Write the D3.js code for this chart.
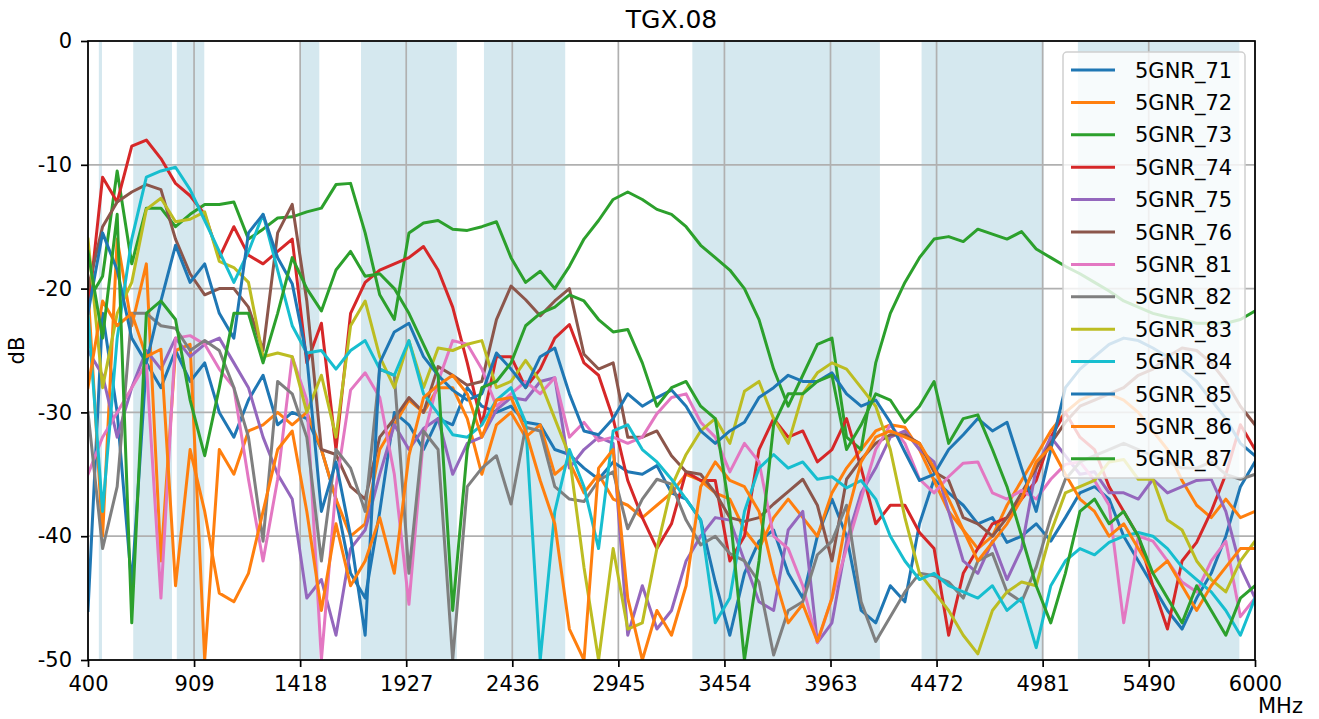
<!DOCTYPE html>
<html>
<head>
<meta charset="utf-8">
<script src="https://cdn.jsdelivr.net/npm/d3@7"></script>
<style>
  body { margin: 0; background: #fff; }
  text { font-family: "DejaVu Sans", sans-serif; fill: #000; }
</style>
</head>
<body>
<div id="chart"></div>
<script>
// frequency grid (MHz) shared by all series
const freqs = [400,470,540,610,680,750,820,890,960,1030,1100,1170,1240,1310,1380,1450,1520,1590,1660,1730,
  1800,1870,1940,2010,2080,2150,2220,2290,2360,2430,2500,2570,2640,2710,2780,2850,2920,2990,3060,3130,
  3200,3270,3340,3410,3480,3550,3620,3690,3760,3830,3900,3970,4040,4110,4180,4250,4320,4390,4460,4530,
  4600,4670,4740,4810,4880,4950,5020,5090,5160,5230,5300,5370,5440,5510,5580,5650,5720,5790,5860,5930,6000];

const s71 = [-46,-22,-30,-44,-26,-28,-25,-27.5,-26,-30,
  -32,-29,-27,-31,-30,-30.5,-33,-37,-43,-45,
  -38,-30,-31,-33,-30.5,-31,-28,-29.5,-30,-29.5,
  -30.8,-31,-33,-33.4,-34.5,-35.4,-34,-34.8,-35,-34.3,
  -36.5,-37,-38.7,-43.7,-48,-43,-40.4,-39.5,-43,-45,
  -40,-37,-40,-46,-47,-44,-45.3,-39,-35.4,-36.5,
  -37.5,-39,-38.5,-40.5,-40,-39,-40.4,-38.5,-36.5,-36,
  -37,-40,-42,-44,-46,-47.5,-45,-43,-40,-36,
  -34];
const s72 = [-20,-40,-16,-23,-18,-42,-25,-24.5,-50,-33,
  -35,-31.5,-31,-30,-31,-30,-33,-37,-40,-39,
  -33,-31,-29,-30,-28,-28,-30.5,-35,-31,-30,
  -32,-31,-35,-34,-36.5,-35,-37,-37.5,-38.5,-37.5,
  -36.5,-35,-35.5,-36.5,-37,-39.5,-41,-38.5,-37,-38.5,
  -40,-36.5,-34.5,-33,-31.5,-31,-31.2,-33,-35.5,-38,
  -39.5,-41,-40,-37.5,-35.5,-33.5,-31.5,-30,-29,-28.5,
  -28.5,-29,-30,-31.5,-33,-35.5,-37.5,-38.5,-37,-38.5,
  -38];
const s73 = [-21,-19,-10.5,-18,-13.5,-13.5,-15,-14,-13.2,-13.2,
  -13,-16,-15.2,-14.3,-14.2,-13.8,-13.5,-11.6,-11.5,-15.5,
  -20.5,-22.5,-15.5,-14.7,-14.5,-15.2,-15.3,-15,-14.6,-17.5,
  -19.5,-18.6,-20,-18.2,-16,-14.5,-12.8,-12.2,-12.8,-13.6,
  -14,-15,-16.5,-17.5,-18.5,-20,-22.5,-26.5,-29.5,-27,
  -24.5,-24,-32,-33,-26,-22,-19.5,-17.5,-16,-15.8,
  -16.2,-15.2,-15.6,-16,-15.4,-16.8,-17.5,-18.2,-18.8,-19.5,
  -20.2,-21,-21.5,-22,-22.3,-22.5,-22.8,-22.8,-22.8,-22.5,
  -21.8];
const s74 = [-22,-11,-13,-8.5,-8,-9.5,-11.5,-12.5,-14,-17.5,
  -15,-17.3,-18,-17,-16,-26,-22.8,-33,-22,-19.5,
  -18.5,-18,-17.5,-16.6,-18.5,-21.5,-26,-31,-25.5,-25.5,
  -28,-26.5,-24,-22.9,-26,-27,-30.5,-35.5,-38.5,-41,
  -39,-34.8,-35.5,-35.5,-42,-40,-33,-30.5,-32,-31.5,
  -34,-33,-30.5,-34.5,-39,-37.5,-37.5,-39.7,-41,-48,
  -43,-41,-39,-38.5,-37,-35.5,-32,-30,-32,-33,
  -36,-38,-40,-44,-47.5,-42,-40.5,-38,-35,-31,
  -33];
const s75 = [-25,-27,-32,-28,-25,-26.5,-24,-25.5,-24.5,-24,
  -26,-28,-32,-35,-37,-45,-43.5,-48,-41,-39.5,
  -35,-31,-33,-31.3,-30.5,-35,-32.5,-32,-29.8,-28.8,
  -29,-27.5,-27.2,-34.5,-33,-32,-32.5,-48,-44,-47.5,
  -46,-42,-40,-38.5,-38.7,-42,-45.3,-46,-39.5,-38,
  -48.6,-47,-40.4,-36.5,-34.5,-32,-31.5,-33,-34,-38,
  -42,-43,-40.4,-43.5,-41,-34.5,-32,-33.5,-35,-34.8,
  -36.5,-36.5,-37,-35.4,-36.5,-36,-35.5,-35.4,-38,-42.5,
  -45];
const s76 = [-20,-15,-13,-12.2,-11.6,-12,-16,-18.8,-20.5,-20,
  -20,-21.5,-25,-15.5,-13.2,-21,-33,-33.4,-36,-37,
  -32,-30.5,-28.8,-30,-26.3,-27,-27.8,-27.5,-22.5,-19.8,
  -20.9,-22.2,-21,-20,-25.3,-26.5,-26,-32,-32,-31.5,
  -33.5,-34.8,-35,-36.5,-38.5,-38.8,-38.5,-37.4,-36.4,-35.4,
  -37.5,-42,-35.4,-33.8,-32.5,-31.8,-31.8,-32.5,-34.8,-35.5,
  -38.5,-39,-40,-38.5,-36.5,-34.5,-32.5,-30.8,-29.5,-29,
  -28.5,-28,-27,-26.5,-25.5,-24.8,-25,-26,-27.5,-29.5,
  -31];
const s81 = [-35,-32,-30,-28,-26,-45,-24,-23.8,-24.5,-26.5,
  -28,-35.4,-42,-35.4,-25.5,-29,-50,-36,-28.2,-26.8,
  -28.8,-35,-45.5,-32,-27.5,-24.2,-24.5,-26.5,-29.5,-28.5,
  -27.5,-28.5,-27.2,-32,-30.8,-32.3,-32,-32.5,-32,-30.1,
  -28.8,-28.5,-30.8,-32,-34.8,-32.5,-34,-40,-41,-44,
  -48.6,-45,-41,-37,-33,-31,-32.5,-35.4,-36.5,-35.2,
  -34.1,-34,-36.5,-37,-36.3,-37,-35.4,-34.2,-34,-35.5,
  -37.5,-47,-40,-40.4,-42,-43.7,-44.5,-42,-40.4,-46.5,
  -45];
const s82 = [-30,-41,-36,-22,-22,-23,-23.2,-25,-24.2,-25,
  -28,-32,-40.4,-27.5,-28.5,-32,-42,-33,-34.5,-38,
  -26.5,-27,-43,-31.5,-33,-50,-36,-34.5,-33.5,-37.4,
  -31.2,-31.5,-36,-37,-37.2,-35.5,-34.8,-39.4,-37,-35.4,
  -35.8,-38.7,-40.7,-40,-41.4,-42,-43.7,-49.6,-46,-45.3,
  -41.5,-40.4,-37.5,-45.3,-48.5,-46.5,-44.5,-43,-43.2,-43.7,
  -45,-42,-41.4,-44.5,-45.3,-42.5,-38.5,-35.4,-34,-33.5,
  -33,-32.5,-33,-33.5,-34,-34.5,-34.5,-34,-35,-35.4,
  -35];
const s83 = [-16,-28,-22,-19.5,-13.6,-12.7,-14.6,-14.4,-13.8,-17.8,
  -18.3,-19.5,-25.5,-25.2,-25.5,-30,-27,-32,-23,-21,
  -25.5,-28,-24.2,-28,-24.8,-25,-24.5,-24.2,-28,-27.5,
  -25.8,-27.5,-30.5,-33.5,-42.5,-50,-41,-47.5,-47,-41,
  -36,-33.4,-31.5,-30.5,-32.5,-28.3,-27.5,-30.5,-32.5,-28.5,
  -26.8,-26,-26.5,-28,-29.5,-33,-38.5,-43,-44.5,-46,
  -48,-49.5,-46,-44.5,-43.7,-44,-39.7,-36.5,-36,-35.5,
  -34,-33.8,-35.4,-35.4,-38.7,-39.5,-42,-43.5,-44.5,-42,
  -40.4];
const s84 = [-22,-38,-24,-16,-11,-10.5,-10.2,-12,-14.5,-17,
  -19.5,-17,-14,-18.5,-23,-25.2,-25,-26.5,-25,-24.2,
  -26.5,-27,-24.2,-28.5,-30.1,-31.8,-32,-31,-29,-28,
  -30.8,-50,-38,-33,-36,-41,-31.5,-31,-33,-34,
  -35.4,-37,-38.7,-47,-45,-38,-34.5,-33.4,-34.5,-34,
  -35.4,-35.2,-36.1,-35.5,-37,-40,-42,-43.5,-43,-44,
  -44.5,-45,-44,-46,-45,-49,-44,-42,-41,-41.5,
  -40.5,-40,-39.7,-40,-41,-42.5,-43.5,-44.5,-46,-48,
  -45];
const s85 = [-22,-15.5,-18.5,-24,-26,-21,-16.5,-19.5,-18,-22,
  -24,-15.5,-14,-17.5,-19.6,-25.5,-38,-34,-40,-48,
  -26,-23.5,-22.8,-25.5,-27,-28.2,-29,-28.5,-25.2,-26.5,
  -28,-25.5,-24.8,-28.5,-31.5,-31.8,-30.5,-28.5,-29.5,-28.8,
  -28.2,-29.5,-31.5,-32.5,-31.5,-30.8,-28.8,-28,-27,-27.5,
  -27.5,-26.8,-28.5,-29.5,-29,-30.8,-33.2,-35.5,-35,-33,
  -31.8,-30.5,-31.5,-30.8,-34.5,-38,-33,-28,-26.5,-25.5,
  -24.5,-24,-24.2,-24.8,-25.5,-26.5,-27.5,-29,-30.5,-32.5,
  -33.5];
const s86 = [-28,-21,-23,-22,-25.5,-24.9,-44,-33,-38,-44.6,
  -45.3,-43,-38,-33,-31.5,-38,-46,-39,-44,-42,
  -38.5,-43,-33.5,-28.8,-27.8,-27,-28.5,-32,-29,-28.8,
  -31.5,-35.5,-39,-47.5,-50,-34.5,-33,-45,-50,-46,
  -48,-44,-36,-34,-35.5,-36,-38,-43,-47,-45.5,
  -48.5,-45,-38.5,-34,-32,-31.5,-32,-32.5,-34.5,-37,
  -39.5,-42,-40.5,-39,-37,-34,-32.8,-35,-37,-38,
  -40,-39,-41,-43,-42,-44,-46,-44,-42.5,-41,
  -41];
const s87 = [-17,-24,-14,-47,-22,-21,-22.5,-29,-33.5,-28,
  -22,-22,-26,-22,-17.5,-20,-21.8,-18.5,-17,-19,
  -18.8,-20,-22,-24.5,-27,-46,-33,-28,-27.5,-26,
  -23,-22,-21.5,-20.5,-21,-22.5,-23.5,-23.3,-26,-29.5,
  -28,-27.5,-29.5,-30.5,-38,-50,-42,-31,-28.5,-28.5,
  -27.5,-27,-33,-31,-28.5,-29,-30.8,-29.5,-27.5,-32.5,
  -30.5,-30.2,-33,-36,-40,-44,-47,-43,-38,-37,
  -39,-38,-40,-43,-45,-47,-44,-46,-48,-45,
  -44];

const seriesNames = ["5GNR_71","5GNR_72","5GNR_73","5GNR_74","5GNR_75","5GNR_76","5GNR_81",
  "5GNR_82","5GNR_83","5GNR_84","5GNR_85","5GNR_86","5GNR_87"];
const seriesValues = [s71, s72, s73, s74, s75, s76, s81, s82, s83, s84, s85, s86, s87];

// shaded frequency bands (MHz)
const bands = [[452,467],[617,803],[826,958],[1418,1510],[1710,2170],[2300,2690],[3300,4200],[4400,4985],[5150,5925]];

const xTicks = [400,909,1418,1927,2436,2945,3454,3963,4472,4981,5490,6000];
const yTicks = [0,-10,-20,-30,-40,-50];

const colors = ["#1f77b4","#ff7f0e","#2ca02c","#d62728","#9467bd","#8c564b","#e377c2",
  "#7f7f7f","#bcbd22","#17becf","#1f77b4","#ff7f0e","#2ca02c"];

const W = 1319, H = 719;
const margin = { top: 41, left: 88, right: 64, bottom: 59 };
const width = W - margin.left - margin.right;
const height = H - margin.top - margin.bottom;

const svg = d3.select("#chart").append("svg")
  .attr("width", W)
  .attr("height", H);

const g = svg.append("g").attr("transform", `translate(${margin.left},${margin.top})`);

const x = d3.scaleLinear().domain([400, 6000]).range([0, width]);
const y = d3.scaleLinear().domain([-50, 0]).range([height, 0]);

svg.append("defs").append("clipPath").attr("id", "plot-clip")
  .append("rect").attr("width", width).attr("height", height);

// bands
g.selectAll(".band")
  .data(bands)
  .join("rect")
  .attr("class", "band")
  .attr("x", d => x(d[0]))
  .attr("y", 0)
  .attr("width", d => x(d[1]) - x(d[0]))
  .attr("height", height)
  .attr("fill", "#d5e8ef");

// grid
g.selectAll(".vgrid")
  .data(xTicks)
  .join("line")
  .attr("x1", d => x(d)).attr("x2", d => x(d))
  .attr("y1", 0).attr("y2", height)
  .attr("stroke", "#b0b0b0").attr("stroke-width", 1.7);
g.selectAll(".hgrid")
  .data(yTicks)
  .join("line")
  .attr("x1", 0).attr("x2", width)
  .attr("y1", d => y(d)).attr("y2", d => y(d))
  .attr("stroke", "#b0b0b0").attr("stroke-width", 1.7);

// lines
const line = d3.line()
  .x((d, i) => x(freqs[i]))
  .y(d => y(d));

g.append("g").attr("clip-path", "url(#plot-clip)")
  .selectAll("path")
  .data(seriesValues)
  .join("path")
  .attr("d", line)
  .attr("fill", "none")
  .attr("stroke", (d, i) => colors[i])
  .attr("stroke-width", 3)
  .attr("stroke-linejoin", "round")
  .attr("stroke-linecap", "square");

// axes
const xAxis = g.append("g")
  .attr("transform", `translate(0,${height})`)
  .call(d3.axisBottom(x).tickValues(xTicks).tickFormat(d => String(d)).tickSize(7).tickPadding(9));
const yAxis = g.append("g")
  .call(d3.axisLeft(y).tickValues(yTicks).tickFormat(d => String(d)).tickSize(7).tickPadding(9));

[xAxis, yAxis].forEach(a => {
  a.select(".domain").remove();
  a.selectAll(".tick line").attr("stroke", "#000").attr("stroke-width", 1.7);
  a.selectAll(".tick text")
    .attr("font-family", "DejaVu Sans")
    .attr("font-size", 21)
    .attr("fill", "#000");
});

// spines
g.append("rect")
  .attr("width", width).attr("height", height)
  .attr("fill", "none")
  .attr("stroke", "#000")
  .attr("stroke-width", 1.7);

// title and axis labels
svg.append("text")
  .attr("x", margin.left + width / 2)
  .attr("y", 28)
  .attr("text-anchor", "middle")
  .attr("font-size", 25)
  .text("TGX.08");

svg.append("text")
  .attr("transform", `translate(24,${margin.top + height / 2}) rotate(-90)`)
  .attr("text-anchor", "middle")
  .attr("font-size", 21)
  .text("dB");

svg.append("text")
  .attr("x", 1258)
  .attr("y", 713)
  .attr("font-size", 21)
  .text("MHz");

// legend
const legend = g.append("g").attr("transform", `translate(${1063 - margin.left},${52 - margin.top})`);
legend.append("rect")
  .attr("width", 182).attr("height", 426)
  .attr("rx", 4)
  .attr("fill", "#fff").attr("fill-opacity", 0.8)
  .attr("stroke", "#d0d0d0").attr("stroke-width", 1.5);

const items = legend.selectAll(".item")
  .data(seriesNames)
  .join("g")
  .attr("class", "item")
  .attr("transform", (d, i) => `translate(0,${18 + i * 32.4})`);
items.append("line")
  .attr("x1", 8).attr("x2", 52)
  .attr("stroke", (d, i) => colors[i])
  .attr("stroke-width", 3);
items.append("text")
  .attr("x", 72)
  .attr("dy", "0.36em")
  .attr("font-size", 21)
  .text(d => d);
</script>
</body>
</html>
